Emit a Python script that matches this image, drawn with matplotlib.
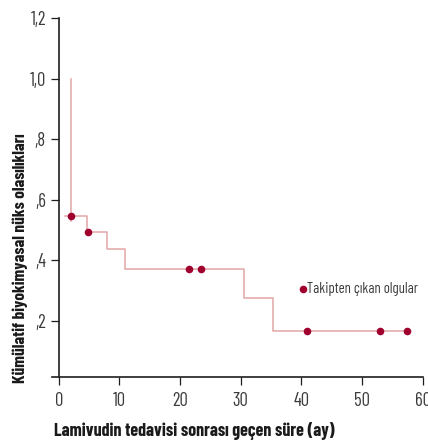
import matplotlib
matplotlib.use("Agg")
import matplotlib.pyplot as plt

# step curve (time in months, cumulative probability)
step_t = [1.05, 4.75, 8.0, 10.9, 30.6, 35.4, 57.4]
step_p = [0.545, 0.495, 0.436, 0.370, 0.277, 0.165, 0.165]
first_drop_t = 2.0
first_drop_top = 1.0

# censored cases
cens_t = [2.0, 4.8, 21.5, 23.5, 40.9, 52.9, 57.4]
cens_p = [0.545, 0.495, 0.370, 0.370, 0.165, 0.165, 0.165]

yticks = [0.2, 0.4, 0.6, 0.8, 1.0, 1.2]
ytick_labels = [",2", ",4", ",6", ",8", "1,0", "1,2"]
xticks = [0, 10, 20, 30, 40, 50, 60]

LINE = "#e3a6a6"
DOT = "#a0002e"
AX = "#1e1e1e"
TXT = "#3c3c3c"
LIGHT = ["Barlow Condensed", "DejaVu Sans"]
BOLD = ["Barlow Condensed", "DejaVu Sans"]

fig = plt.figure(figsize=(4.28, 4.44), dpi=100)
ax = fig.add_axes([0.1215, 0.150, 0.866, 0.8086])

ax.plot([first_drop_t, first_drop_t], [first_drop_top, 0.53], color=LINE, lw=1.1)
ax.step(step_t, step_p, where="post", color=LINE, lw=1.1)
ax.scatter(cens_t, cens_p, s=30, color=DOT, linewidths=0, zorder=3)

ax.scatter([40.2], [0.306], s=30, color=DOT, linewidths=0, zorder=3)
lg = ax.text(41.0, 0.306, "Takipten çıkan olgular", fontsize=10.5, color=TXT,
             va="center", ha="left", family=LIGHT, fontweight="normal")

ax.set_xlim(-1.1, 60)
ax.set_ylim(0.013, 1.2)
ax.spines["left"].set_position(("data", 0))
ax.spines["top"].set_visible(False)
ax.spines["right"].set_visible(False)
for s in ["left", "bottom"]:
    ax.spines[s].set_color(AX)
    ax.spines[s].set_linewidth(1.2)

ax.set_xticks(xticks)
ax.set_yticks(yticks)
ax.set_yticklabels(ytick_labels)
ax.tick_params(length=5.8, width=0.9, color=AX, labelsize=13.4, labelcolor=TXT)
ax.tick_params(axis="x", pad=4.5)
ax.tick_params(axis="y", pad=3.4)
for lab in ax.get_xticklabels() + ax.get_yticklabels():
    lab.set_family(LIGHT)
    lab.set_fontweight("normal")

xl = fig.text(54 / 428, 8 / 444, "Lamivudin tedavisi sonrası geçen süre (ay)", fontsize=12.5,
              fontweight="bold", color="#1a1a1a", ha="left", va="baseline", family=BOLD)
yl = fig.text(20 / 428, 61 / 444, "Kümülatif biyokimyasal nüks olasılıkları", fontsize=12.5,
              fontweight="bold", color="#1a1a1a", ha="center", va="bottom", rotation=90,
              family=BOLD)

# fit text lengths to the reference
r = fig.canvas.get_renderer()
w = xl.get_window_extent(r).width
xl.set_fontsize(12.5 * 281 / w)
h = yl.get_window_extent(r).height
yl.set_fontsize(12.5 * 250 / h)
w = lg.get_window_extent(r).width
lg.set_fontsize(10.5 * 111 / w)

fig.savefig("out.png", dpi=100)
